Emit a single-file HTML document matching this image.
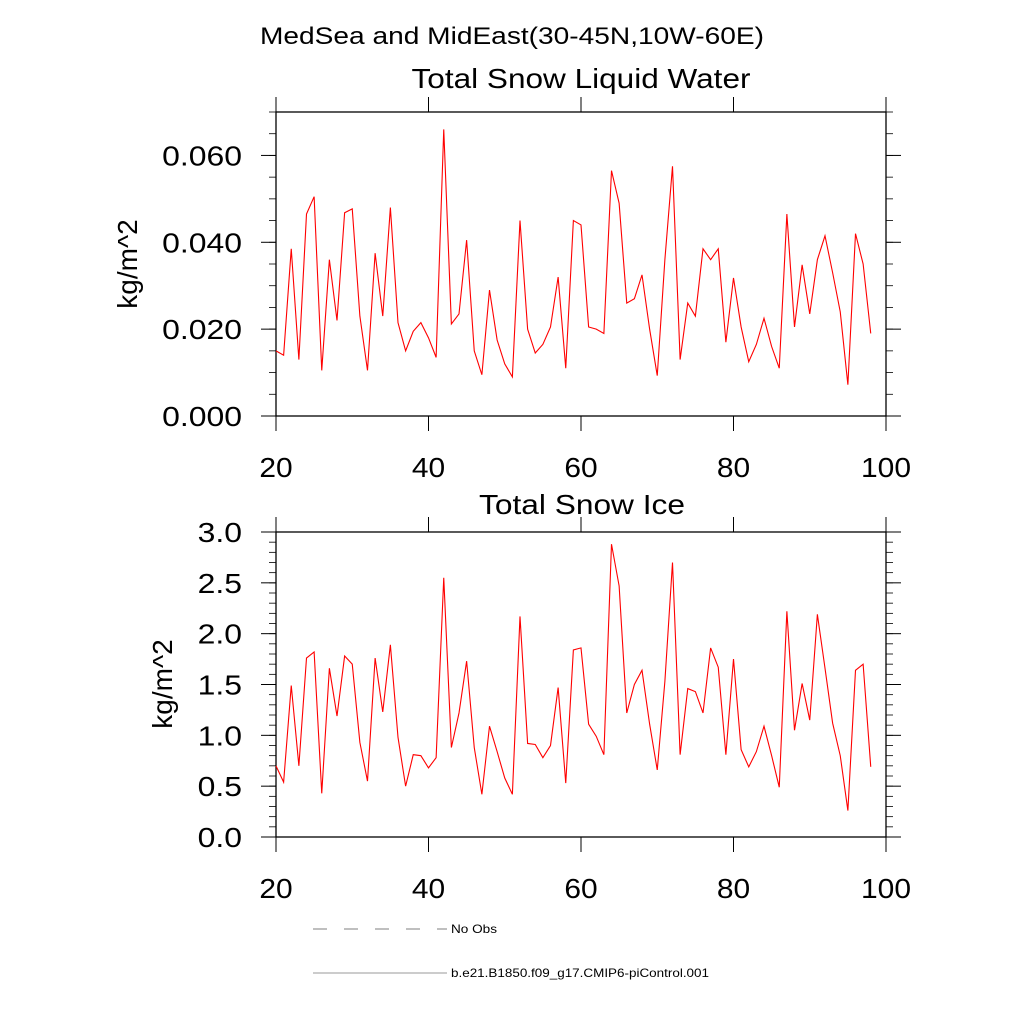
<!DOCTYPE html>
<html><head><meta charset="utf-8"><style>
html,body{margin:0;padding:0;background:#fff;}
svg{display:block;font-family:"Liberation Sans",sans-serif;}
</style></head><body>
<svg id="c" width="1024" height="1024" viewBox="0 0 1024 1024">
<text x="512" y="44" font-size="24" text-anchor="middle" textLength="504" lengthAdjust="spacingAndGlyphs">MedSea and MidEast(30-45N,10W-60E)</text>
<text x="581" y="88" font-size="28" text-anchor="middle" textLength="339" lengthAdjust="spacingAndGlyphs">Total Snow Liquid Water</text>
<text x="582" y="514" font-size="28" text-anchor="middle" textLength="206" lengthAdjust="spacingAndGlyphs">Total Snow Ice</text>
<text transform="translate(137,264) rotate(-90)" font-size="28" text-anchor="middle">kg/m^2</text>
<text transform="translate(172,684) rotate(-90)" font-size="28" text-anchor="middle">kg/m^2</text>
<line x1="313" y1="929" x2="447" y2="929" stroke="#555" stroke-width="0.8" stroke-dasharray="14,17"/>
<text x="451" y="933" font-size="12" textLength="46" lengthAdjust="spacingAndGlyphs">No Obs</text>
<line x1="313" y1="973" x2="447" y2="973" stroke="#999" stroke-width="1"/>
<text x="451" y="977" font-size="12" textLength="258" lengthAdjust="spacingAndGlyphs">b.e21.B1850.f09_g17.CMIP6-piControl.001</text>
</svg>
<script>
const years=[];for(let i=20;i<=98;i++)years.push(i);
const liquidWater=[0.015,0.014,0.0385,0.013,0.0465,0.0505,0.0105,0.036,0.022,0.0468,0.0477,0.023,0.0105,0.0375,0.023,0.048,0.0215,0.015,0.0195,0.0215,0.018,0.0135,0.066,0.0212,0.0235,0.0405,0.015,0.0095,0.029,0.0175,0.012,0.009,0.045,0.020,0.0145,0.0165,0.0205,0.032,0.011,0.045,0.044,0.0205,0.020,0.019,0.0565,0.049,0.026,0.027,0.0325,0.020,0.0093,0.036,0.0575,0.013,0.026,0.023,0.0385,0.036,0.0385,0.017,0.0318,0.0205,0.0125,0.0165,0.0225,0.016,0.011,0.0465,0.0205,0.0348,0.0235,0.036,0.0415,0.033,0.024,0.0072,0.042,0.035,0.019];
const snowIce=[0.70,0.54,1.49,0.70,1.76,1.82,0.43,1.66,1.19,1.78,1.70,0.93,0.55,1.76,1.23,1.89,0.98,0.50,0.81,0.80,0.68,0.78,2.55,0.88,1.22,1.73,0.88,0.42,1.09,0.84,0.58,0.42,2.17,0.92,0.91,0.78,0.90,1.47,0.53,1.84,1.86,1.11,0.99,0.81,2.88,2.47,1.22,1.50,1.64,1.11,0.66,1.53,2.70,0.81,1.46,1.43,1.22,1.86,1.67,0.81,1.75,0.86,0.69,0.84,1.09,0.80,0.49,2.22,1.05,1.51,1.15,2.19,1.66,1.12,0.80,0.26,1.64,1.70,0.69];
const xTicks=[20,40,60,80,100];
const topYTicks=["0.000","0.020","0.040","0.060"];
const botYTicks=["0.0","0.5","1.0","1.5","2.0","2.5","3.0"];
const NS="http://www.w3.org/2000/svg";
const svg=document.getElementById('c');
function mk(t,a){const e=document.createElementNS(NS,t);for(const k in a)e.setAttribute(k,a[k]);svg.appendChild(e);return e;}
function stretch(t,f){const w=t.getComputedTextLength();t.setAttribute('textLength',(w*f).toFixed(1));t.setAttribute('lengthAdjust','spacingAndGlyphs');}
const X0=276,X1=886;
function sx(v){return X0+(v-20)/80*(X1-X0);}
function panel(name,top,bot,ymax,yTicks,minorStep,vals){
  const sy=v=>bot-(v/ymax)*(bot-top);
  const r=mk('rect',{x:X0,y:top,width:X1-X0,height:bot-top,fill:'none',stroke:'#000','stroke-width':1.3});
  
  
  for(let v=0;v<=ymax+1e-9;v+=minorStep){
    const y=sy(v);
    const l=mk('line',{x1:X0-7,y1:y,x2:X0,y2:y,stroke:'#000','stroke-width':0.8});
    
    
    const l2=mk('line',{x1:X1,y1:y,x2:X1+7,y2:y,stroke:'#000','stroke-width':0.8});
    
    
  }
  yTicks.forEach(s=>{
    const y=sy(parseFloat(s));
    const l=mk('line',{x1:X0-15,y1:y,x2:X0,y2:y,stroke:'#000','stroke-width':1});
    
    
    const l2=mk('line',{x1:X1,y1:y,x2:X1+15,y2:y,stroke:'#000','stroke-width':1});
    
    
    const t=mk('text',{x:X0-34,y:y+10,'font-size':28,'text-anchor':'end'});t.textContent=s;
    
    
    stretch(t,1.14);
  });
  xTicks.forEach(v=>{
    const x=sx(v);
    const l=mk('line',{x1:x,y1:bot,x2:x,y2:bot+15,stroke:'#000','stroke-width':1});
    
    
    const l2=mk('line',{x1:x,y1:top-15,x2:x,y2:top,stroke:'#000','stroke-width':1});
    
    
    const t=mk('text',{x:x,y:bot+61,'font-size':28,'text-anchor':'middle'});t.textContent=v;
    
    
    stretch(t,1.07);
  });
  const p=mk('polyline',{points:vals.map((v,i)=>sx(years[i])+','+sy(v)).join(' '),fill:'none',stroke:'#f00','stroke-width':1.1});
  
  
}
panel('top',112,416,0.07,topYTicks,0.005,liquidWater);
panel('bottom',532,837,3.0,botYTicks,0.1,snowIce);
</script>
</body></html>
